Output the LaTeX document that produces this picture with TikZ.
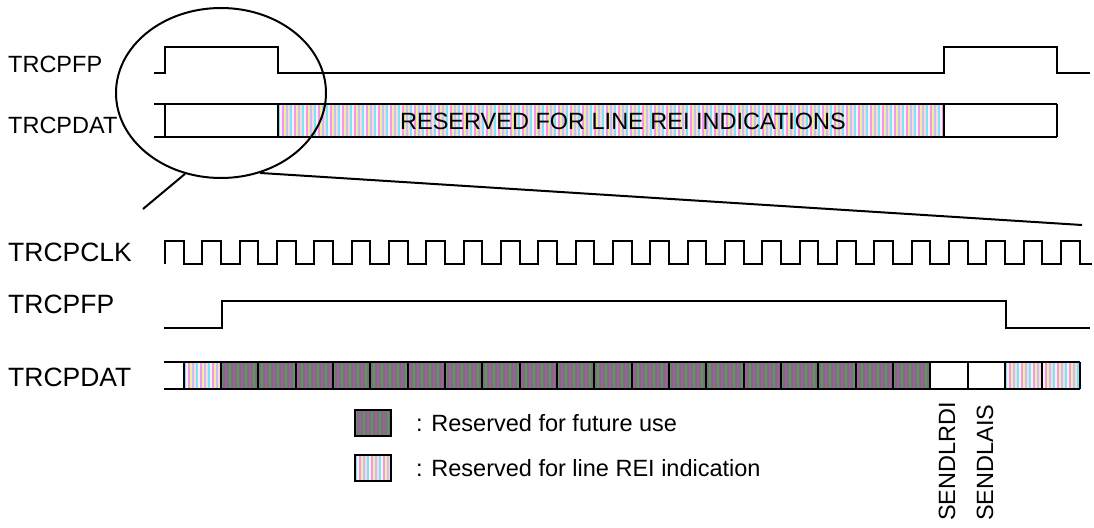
\documentclass[tikz,border=0pt]{standalone}
\usepackage{fontspec}
\setmainfont{Liberation Sans}
\usetikzlibrary{shapes.geometric}
\definecolor{rei0}{RGB}{120,230,240}
\definecolor{rei1}{RGB}{250,240,250}
\definecolor{rei2}{RGB}{245,150,235}
\definecolor{rei3}{RGB}{240,240,150}
\definecolor{rei4}{RGB}{200,190,245}
\definecolor{rei5}{RGB}{250,215,225}
\definecolor{gry0}{RGB}{95,150,95}
\definecolor{gry1}{RGB}{125,110,125}
\definecolor{gry2}{RGB}{165,90,165}
\definecolor{gry3}{RGB}{118,118,118}
\newcommand{\myReiFill}[4]{%
  \begin{scope}
    \clip (#1,#2) rectangle (#3,#4);
    \pgfmathsetmacro{\nst}{int(((#3)-(#1))/2)+1}
    \foreach \i in {0,...,\nst}{%
      \pgfmathsetmacro{\ci}{int(mod(\i,6))}%
      \fill[rei\ci] ({#1+2*\i},#2) rectangle ({#1+2*\i+2.2},#4);
    }
  \end{scope}}
\newcommand{\myGryFill}[4]{%
  \begin{scope}
    \clip (#1,#2) rectangle (#3,#4);
    \pgfmathsetmacro{\nst}{int(((#3)-(#1))/2)+1}
    \foreach \i in {0,...,\nst}{%
      \pgfmathsetmacro{\ci}{int(mod(\i,4))}%
      \fill[gry\ci] ({#1+2*\i},#2) rectangle ({#1+2*\i+2.2},#4);
    }
  \end{scope}}
\tikzset{
  wave/.style={line width=2pt, line join=miter},
  lbl/.style={font=\fontsize{23.5}{28}\selectfont, inner sep=0pt, anchor=base west},
  lblb/.style={font=\fontsize{26.5}{31}\selectfont, inner sep=0pt, anchor=base west},
  note/.style={font=\fontsize{23.5}{28}\selectfont, inner sep=0pt},
  legbox/.style={line width=2pt}
}
\begin{document}
\begin{tikzpicture}[x=1pt,y=-1pt]
\useasboundingbox (0,0) rectangle (1094,527);
\fill[white] (0,0) rectangle (1094,527);

% ---------- top overview ----------
\node[lbl] (lfp1) at (8,72) {TRCPFP};
\node[lbl] (ldat1) at (8,133) {TRCPDAT};

\draw[wave] (154,73) -- (165,73) -- (165,47) -- (278,47) -- (278,73) -- (944,73) -- (944,47) -- (1057,47) -- (1057,73) -- (1090,73);

\myReiFill{278}{104}{944}{137}
\draw[wave] (154,104) -- (1057,104);
\draw[wave] (154,137) -- (1057,137);
\foreach \xx in {165,278,944,1057} \draw[wave] (\xx,104) -- (\xx,137);
\node[note] (rsv) at (623,121) {RESERVED FOR LINE REI INDICATIONS};

% ---------- zoomed detail ----------
\node[lblb] (lclk) at (8,261) {TRCPCLK};
\node[lblb] (lfp2) at (8,313) {TRCPFP};
\node[lblb] (ldat2) at (8,386) {TRCPDAT};

% clock
\draw[wave] (165,264)
  \foreach \k in {0,...,23}{ -- ++(0,-23) -- ++(18.6667,0) -- ++(0,23) -- ++(18.6667,0)}
  -- ++(0,-23) -- ++(18.6667,0) -- ++(0,23) -- (1092,264);

% frame pulse
\draw[wave] (164,328) -- (222,328) -- (222,301) -- (1006,301) -- (1006,328) -- (1090,328);

% data cells
\myReiFill{183.67}{362}{221}{389}
\myGryFill{221}{362}{930.33}{389}
\myReiFill{1005}{362}{1079.67}{389}
\draw[wave] (164,362) -- (1079.67,362);
\draw[wave] (164,389) -- (1079.67,389);
\foreach \k in {0,...,24} \draw[wave] ({183.667+37.3333*\k},362) -- ({183.667+37.3333*\k},389);

\node[note, rotate=90, anchor=west] (sl1) at (947,521) {SENDLRDI};
\node[note, rotate=90, anchor=west] (sl2) at (985,521) {SENDLAIS};

% legend
\myGryFill{355}{410}{391}{436}
\draw[legbox] (355,410) rectangle (391,436);
\node[note, anchor=west] (leg1) at (416,423) {: Reserved for future use};
\myReiFill{355}{455}{391}{481}
\draw[legbox] (355,455) rectangle (391,481);
\node[note, anchor=west] (leg2) at (416,468) {: Reserved for line REI indication};

% magnifier
\node[draw, ellipse, line width=2pt, minimum width=210pt, minimum height=170pt, inner sep=0pt] (ell) at (221,93) {};
\coordinate (zl) at (143,209);
\coordinate (zr) at (1082,225);
\draw[wave] (ell.246) -- (zl);
\draw[wave] (ell.296) -- (zr);
\end{tikzpicture}
\end{document}
